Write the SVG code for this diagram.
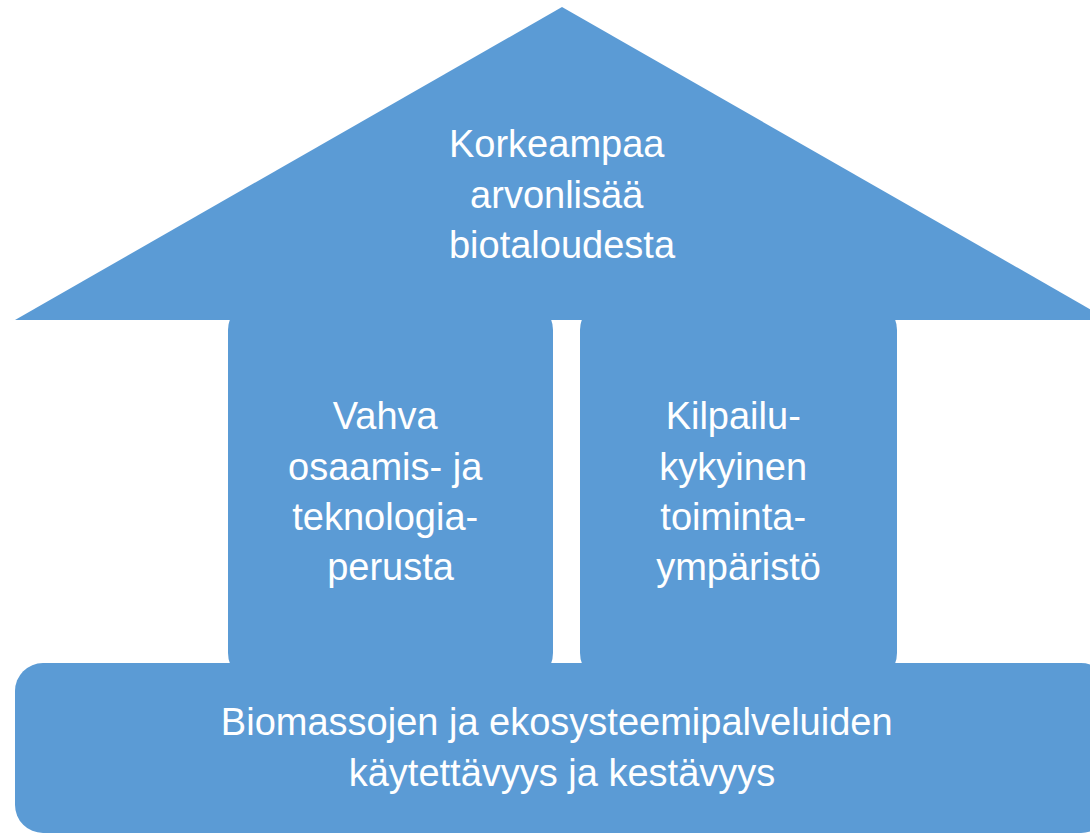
<svg xmlns="http://www.w3.org/2000/svg" width="1090" height="835" viewBox="0 0 1090 835">
  <style>
    .shape { fill: #5B9BD5; }
    .label { fill: #FFFFFF; font-family: "Liberation Sans", Arial, sans-serif; font-size: 38px; text-anchor: middle; }
  </style>
  <rect x="0" y="0" width="1090" height="835" fill="#FFFFFF"/>
  <g id="pillar-left">
    <rect class="shape" x="228" y="300" width="325" height="383" rx="30" ry="30"/>
    <text class="label">
      <tspan x="390.5" y="429">Vahva</tspan>
      <tspan x="390.5" y="480">osaamis- ja</tspan>
      <tspan x="390.5" y="530">teknologia-</tspan>
      <tspan x="390.5" y="580">perusta</tspan>
    </text>
  </g>
  <g id="pillar-right">
    <rect class="shape" x="580" y="300" width="317" height="383" rx="30" ry="30"/>
    <text class="label">
      <tspan x="738.5" y="429">Kilpailu-</tspan>
      <tspan x="738.5" y="480">kykyinen</tspan>
      <tspan x="738.5" y="530">toiminta-</tspan>
      <tspan x="738.5" y="580">ympäristö</tspan>
    </text>
  </g>
  <g id="roof">
    <polygon class="shape" points="15,320 562,7 1109,320"/>
    <text class="label">
      <tspan x="562" y="157">Korkeampaa</tspan>
      <tspan x="562" y="208">arvonlisää</tspan>
      <tspan x="562" y="258">biotaloudesta</tspan>
    </text>
  </g>
  <g id="base">
    <rect class="shape" x="15" y="663" width="1094" height="170" rx="28" ry="28"/>
    <text class="label">
      <tspan x="562" y="735">Biomassojen ja ekosysteemipalveluiden</tspan>
      <tspan x="562" y="786">käytettävyys ja kestävyys</tspan>
    </text>
  </g>
  <g id="connectors"></g>
</svg>
